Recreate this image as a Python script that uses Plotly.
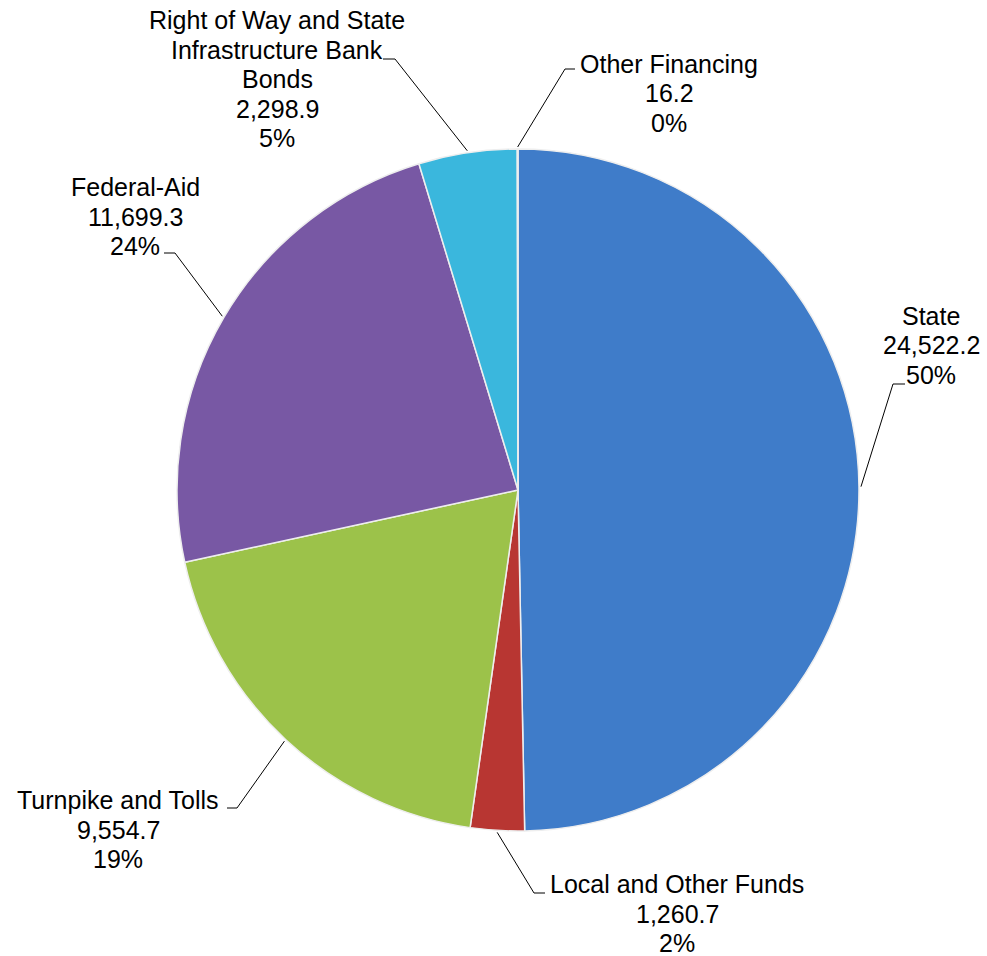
import math
import plotly.graph_objects as go

# ---------------- data ----------------
categories = [
    "State",
    "Local and Other Funds",
    "Turnpike and Tolls",
    "Federal-Aid",
    "Right of Way and State<br>Infrastructure Bank<br>Bonds",
    "Other Financing",
]
values = [24522.2, 1260.7, 9554.7, 11699.3, 2298.9, 16.2]
colors = ["#3f7cc9", "#b83632", "#9cc24a", "#7858a4", "#3ab7dd", "#f79646"]

# ---------------- layout constants (page pixels) ----------------
W, H = 987, 956
CX, CY, R = 518, 490, 341
FONT = dict(family="Arial, Liberation Sans, sans-serif", size=25, color="#000000")
LINE_STEP = 29.5

# label block: centre x, first-line centre y ; leader: elbow (x, y), tick end x
label_pos = [(931, 316), (677, 884), (118, 800), (135, 187), (277, 20), (669, 64)]
leader_elbow = [(893, 384), (534, 893), (237, 808), (175, 253), (395, 59), (565, 69)]
leader_end_x = [905, 545, 227, 164, 383, 575]


def px(x):
    return x / W


def py(y):
    return 1 - y / H


# percentages rounded so they sum to 100 (largest remainder, as in the source)
total = sum(values)
raw = [v / total * 100 for v in values]
pct = [math.floor(r) for r in raw]
left = 100 - sum(pct)
for i in sorted(range(len(raw)), key=lambda i: raw[i] - pct[i], reverse=True)[:left]:
    pct[i] += 1

fig = go.Figure(
    go.Pie(
        labels=[c.replace("<br>", " ") for c in categories],
        values=values,
        sort=False,
        direction="clockwise",
        rotation=0,
        textinfo="none",
        marker=dict(colors=colors, line=dict(color="#eeeeee", width=1.5)),
        domain=dict(x=[px(CX - R), px(CX + R)], y=[py(CY + R), py(CY - R)]),
        showlegend=False,
        hovertemplate="%{label}<br>%{value:,.1f}<br>%{percent}<extra></extra>",
    )
)

annotations = []
shapes = []
cum = 0.0
for i, (cat, v) in enumerate(zip(categories, values)):
    mid = (cum + v / 2) / total * 2 * math.pi
    cum += v
    tipx = CX + (R + 2) * math.sin(mid)
    tipy = CY - (R + 2) * math.cos(mid)
    ex, ey = leader_elbow[i]
    path = f"M {px(tipx)} {py(tipy)} L {px(ex)} {py(ey)} L {px(leader_end_x[i])} {py(ey)}"
    shapes.append(dict(type="path", xref="paper", yref="paper", path=path,
                       line=dict(color="#000000", width=1)))
    lines = cat.split("<br>") + [f"{v:,.1f}", f"{pct[i]}%"]
    lx, ly = label_pos[i]
    for k, t in enumerate(lines):
        annotations.append(dict(
            x=px(lx), y=py(ly + k * LINE_STEP), xref="paper", yref="paper",
            text=t, showarrow=False, xanchor="center", yanchor="middle",
            borderpad=0, font=FONT,
        ))

fig.update_layout(
    width=W, height=H,
    margin=dict(l=0, r=0, t=0, b=0),
    paper_bgcolor="#ffffff",
    plot_bgcolor="#ffffff",
    annotations=annotations,
    shapes=shapes,
)

# remove the page's default 8px body margin so the figure fills the window
fig.write_html("out.html", config={"displayModeBar": False},
               post_script="document.body.style.margin='0px';")
